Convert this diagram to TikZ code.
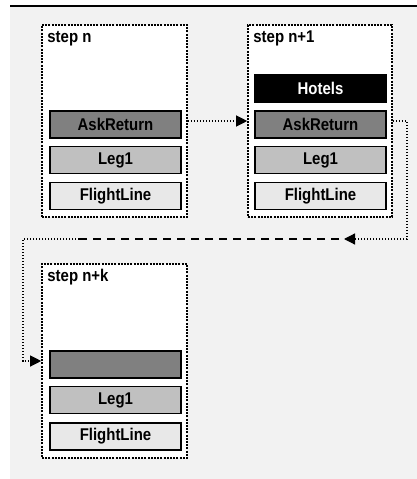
\documentclass[tikz,border=0pt]{standalone}
\usepackage{fontspec}
\setmainfont{Liberation Sans}[FakeStretch = 0.88]
\usetikzlibrary{arrows.meta}

\definecolor{bggray}{HTML}{F2F2F2}
\definecolor{darkbar}{HTML}{808080}
\definecolor{midbar}{HTML}{C0C0C0}
\definecolor{lightbar}{HTML}{E8E8E8}

\begin{document}
\begin{tikzpicture}[x = 1pt, y = -1pt, font = \fontsize{17}{20}\selectfont\bfseries,
        stepbox/.style = {draw, fill = white, line width = 1.6pt, dash pattern = on 2pt off 1.2pt,
                minimum width = 145pt, minimum height = 192pt, inner sep = 0pt},
        bar/.style = {draw, line width = 1.8pt, minimum width = 131pt, minimum height = 27pt, inner sep = 0pt},
        steptitle/.style = {anchor = base west, inner sep = 0pt},
        conn/.style = {line width = 1.2pt, dash pattern = on 1.2pt off 1.8pt},
        tip/.style = {-{Triangle[length = 11pt, width = 11pt]}},
        jump/.style = {line width = 2pt, dash pattern = on 8pt off 6pt}]
        \useasboundingbox (0,0) rectangle (417,479);
        \fill[bggray] (10,7) rectangle (417,479);
        \draw[line width = 2pt] (10,6) -- (417,6);
        
        \node[stepbox] (box1) at (114.5,121) {};
        \node[stepbox, minimum width = 144pt] (box2) at (320,121) {};
        \node[stepbox, minimum height = 194pt] (box3) at (114.5,361) {};
        
        \node[steptitle] (title1) at ([xshift = 6pt, yshift = -18pt]box1.north west) {step n};
        \node[steptitle] (title2) at ([xshift = 6pt, yshift = -18pt]box2.north west) {step n+1};
        \node[steptitle] (title3) at ([xshift = 6pt, yshift = -18pt]box3.north west) {step n+k};
        
        \node[bar, fill = darkbar] (ask1) at (115.5,124.5) {AskReturn};
        \node[bar, fill = midbar] (leg1) at (115.5,160) {Leg1};
        \node[bar, fill = lightbar] (flight1) at (115.5,196) {FlightLine};
        
        \node[bar, fill = black, text = white] (hotels2) at (320.5,88.5) {Hotels};
        \node[bar, fill = darkbar] (ask2) at (320.5,124.5) {AskReturn};
        \node[bar, fill = midbar] (leg2) at (320.5,160) {Leg1};
        \node[bar, fill = lightbar] (flight2) at (320.5,196) {FlightLine};
        
        \node[bar, fill = darkbar] (ask3) at (115.5,364.5) {};
        \node[bar, fill = midbar] (leg3) at (115.5,400) {Leg1};
        \node[bar, fill = lightbar] (flight3) at (115.5,436.5) {FlightLine};
        
        \coordinate (turnR) at (407,239);
        \coordinate (tipR) at (344,239);
        \coordinate (dashR) at (339,239);
        \coordinate (dashL) at (79,239);
        \coordinate (turnL) at (23,239);
        
        \draw[conn, tip] (box1.east) -- (box2.west);
        \draw[conn, tip] (box2.east) -| (turnR) -- (tipR);
        \draw[jump] (dashR) -- (dashL);
        \draw[conn, tip] (dashL) -- (turnL) |- (box3.west);
        \end{tikzpicture}
\end{document}
